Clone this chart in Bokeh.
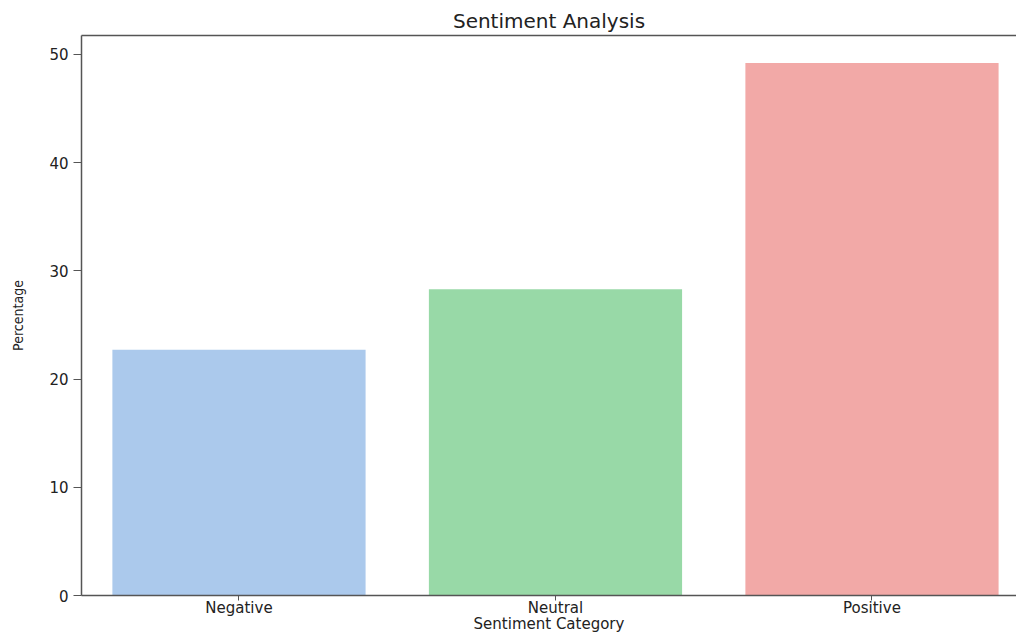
from bokeh.plotting import figure
from bokeh.models import ColumnDataSource, FixedTicker, LinearAxis, Range1d
from bokeh.embed import file_html
from bokeh.resources import INLINE

categories = ["Negative", "Neutral", "Positive"]
percentages = [22.7, 28.3, 49.2]
colors = ["#abc9ec", "#98d9a7", "#f2a9a7"]
y_ticks = [0, 10, 20, 30, 40, 50]

positions = list(range(len(categories)))
source = ColumnDataSource(dict(x=positions, top=percentages, color=colors, cat=categories))

p = figure(width=1016, height=635, output_backend="svg", toolbar_location=None,
           x_range=Range1d(-0.4976, 2.4566), y_range=Range1d(0, 51.75),
           min_border_left=81, min_border_right=0, min_border_top=35, min_border_bottom=39,
           title="Sentiment Analysis")

p.vbar(x="x", top="top", width=0.8, color="color", line_color=None, source=source)

p.title.align = "center"
p.title.text_font = "DejaVu Sans"
p.title.text_font_size = "20px"
p.title.text_font_style = "normal"
p.title.text_color = "#222222"
p.title.offset = 0
p.title.standoff = 5

p.outline_line_color = None
p.xgrid.visible = False
p.ygrid.visible = False
p.background_fill_color = "white"
p.border_fill_color = "white"

axis_color = "#555555"

xa = p.xaxis[0]
xa.ticker = FixedTicker(ticks=positions)
xa.major_label_overrides = {i: c for i, c in zip(positions, categories)}
xa.minor_tick_line_color = None
xa.major_tick_in = 0
xa.major_tick_out = 5
xa.major_label_standoff = -2
xa.axis_label = "Sentiment Category"
xa.axis_label_standoff = -5
xa.axis_label_text_font = "DejaVu Sans"
xa.axis_label_text_font_size = "15px"
xa.axis_label_text_font_style = "normal"
xa.axis_label_text_color = "#222222"
xa.major_label_text_font = "DejaVu Sans"
xa.major_label_text_font_size = "15px"
xa.major_label_text_color = "#222222"
xa.axis_line_color = axis_color
xa.axis_line_width = 1.5
xa.major_tick_line_color = axis_color

ya = p.yaxis[0]
ya.ticker = FixedTicker(ticks=y_ticks)
ya.minor_tick_line_color = None
ya.major_tick_in = 0
ya.major_tick_out = 8
ya.major_label_standoff = 5
ya.axis_label = "Percentage"
ya.axis_label_standoff = 20
ya.axis_label_text_font = "DejaVu Sans Condensed"
ya.axis_label_text_font_size = "14px"
ya.axis_label_text_font_style = "normal"
ya.axis_label_text_color = "#222222"
ya.major_label_text_font = "DejaVu Sans"
ya.major_label_text_font_size = "15px"
ya.major_label_text_color = "#222222"
ya.axis_line_color = axis_color
ya.axis_line_width = 1.5
ya.major_tick_line_color = axis_color

top_axis = LinearAxis(ticker=FixedTicker(ticks=[]), major_label_text_font_size="0px",
                      major_tick_line_color=None, minor_tick_line_color=None,
                      axis_line_color=axis_color, axis_line_width=1.5)
p.add_layout(top_axis, "above")

open("out.html", "w").write(file_html(p, INLINE))
